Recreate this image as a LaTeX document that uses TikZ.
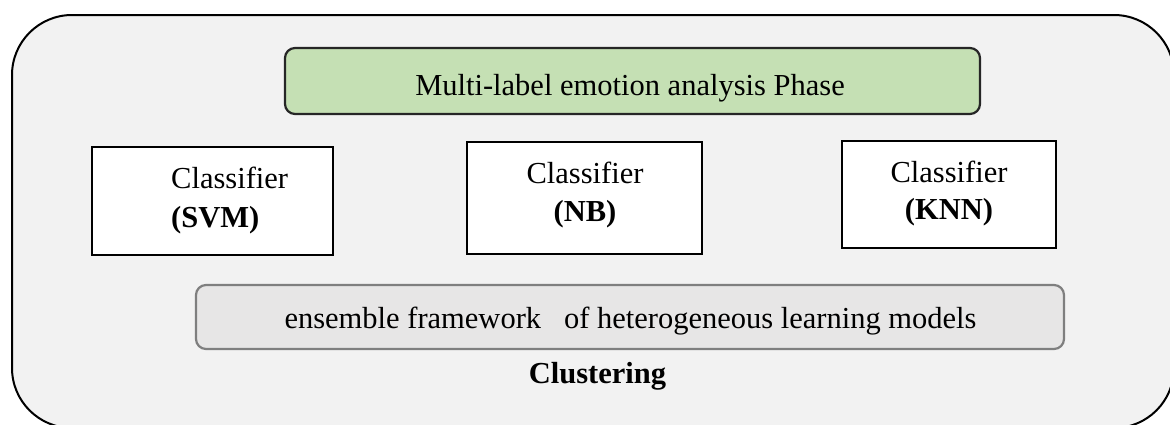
\documentclass[tikz,border=0pt]{standalone}
\usepackage{fontspec}
\setmainfont{Liberation Serif}
\begin{document}
\begin{tikzpicture}[x=1pt,y=-1pt,
  outerbox/.style={draw=black,line width=2pt,fill=outerfill,rounded corners=60pt},
  clsbox/.style={draw=black,line width=2.5pt,fill=white,inner sep=0pt},
  phasebox/.style={draw=black!85,line width=2.2pt,fill=phasegreen,rounded corners=10pt,inner sep=0pt},
  ensbox/.style={draw=ensborder,line width=2.2pt,fill=ensfill,rounded corners=10pt,inner sep=0pt},
  txt/.style={inner sep=0pt,font=\fontsize{30.5}{36}\selectfont},
]
\definecolor{outerfill}{HTML}{F2F2F2}
\definecolor{phasegreen}{HTML}{C5E0B4}
\definecolor{ensfill}{HTML}{E7E6E6}
\definecolor{ensborder}{HTML}{7F7F7F}
\useasboundingbox (0,0) rectangle (1170,424);
\fill[white] (0,0) rectangle (1170,424);
\draw[outerbox] (12,15) rectangle (1174,428);
\node[phasebox,minimum width=695pt,minimum height=66pt] (phase) at (632.5,81) {};
\node[txt,anchor=base] (phasetxt) at (630,95) {Multi-label emotion analysis Phase};
\node[clsbox,minimum width=241pt,minimum height=108pt] (svm) at (212.5,201) {};
\node[clsbox,minimum width=235pt,minimum height=112pt] (nb) at (584.5,198) {};
\node[clsbox,minimum width=214pt,minimum height=107pt] (knn) at (949,194.5) {};
\node[txt,anchor=base west] (svmt1) at (171,188) {Classifier};
\node[txt,anchor=base west] (svmt2) at (171,227) {\bfseries (SVM)};
\node[txt,anchor=base] (nbt1) at (585,183) {Classifier};
\node[txt,anchor=base] (nbt2) at (585,221) {\bfseries (NB)};
\node[txt,anchor=base] (knnt1) at (949,182) {Classifier};
\node[txt,anchor=base] (knnt2) at (949,219) {\bfseries (KNN)};
\node[ensbox,minimum width=868pt,minimum height=64pt] (ens) at (630,317) {};
\node[txt,anchor=base] (enstxt) at (630.5,328) {ensemble framework \ \ of heterogeneous learning models};
\node[txt,anchor=base] (clus) at (597.5,383) {\bfseries Clustering};
\end{tikzpicture}
\end{document}
